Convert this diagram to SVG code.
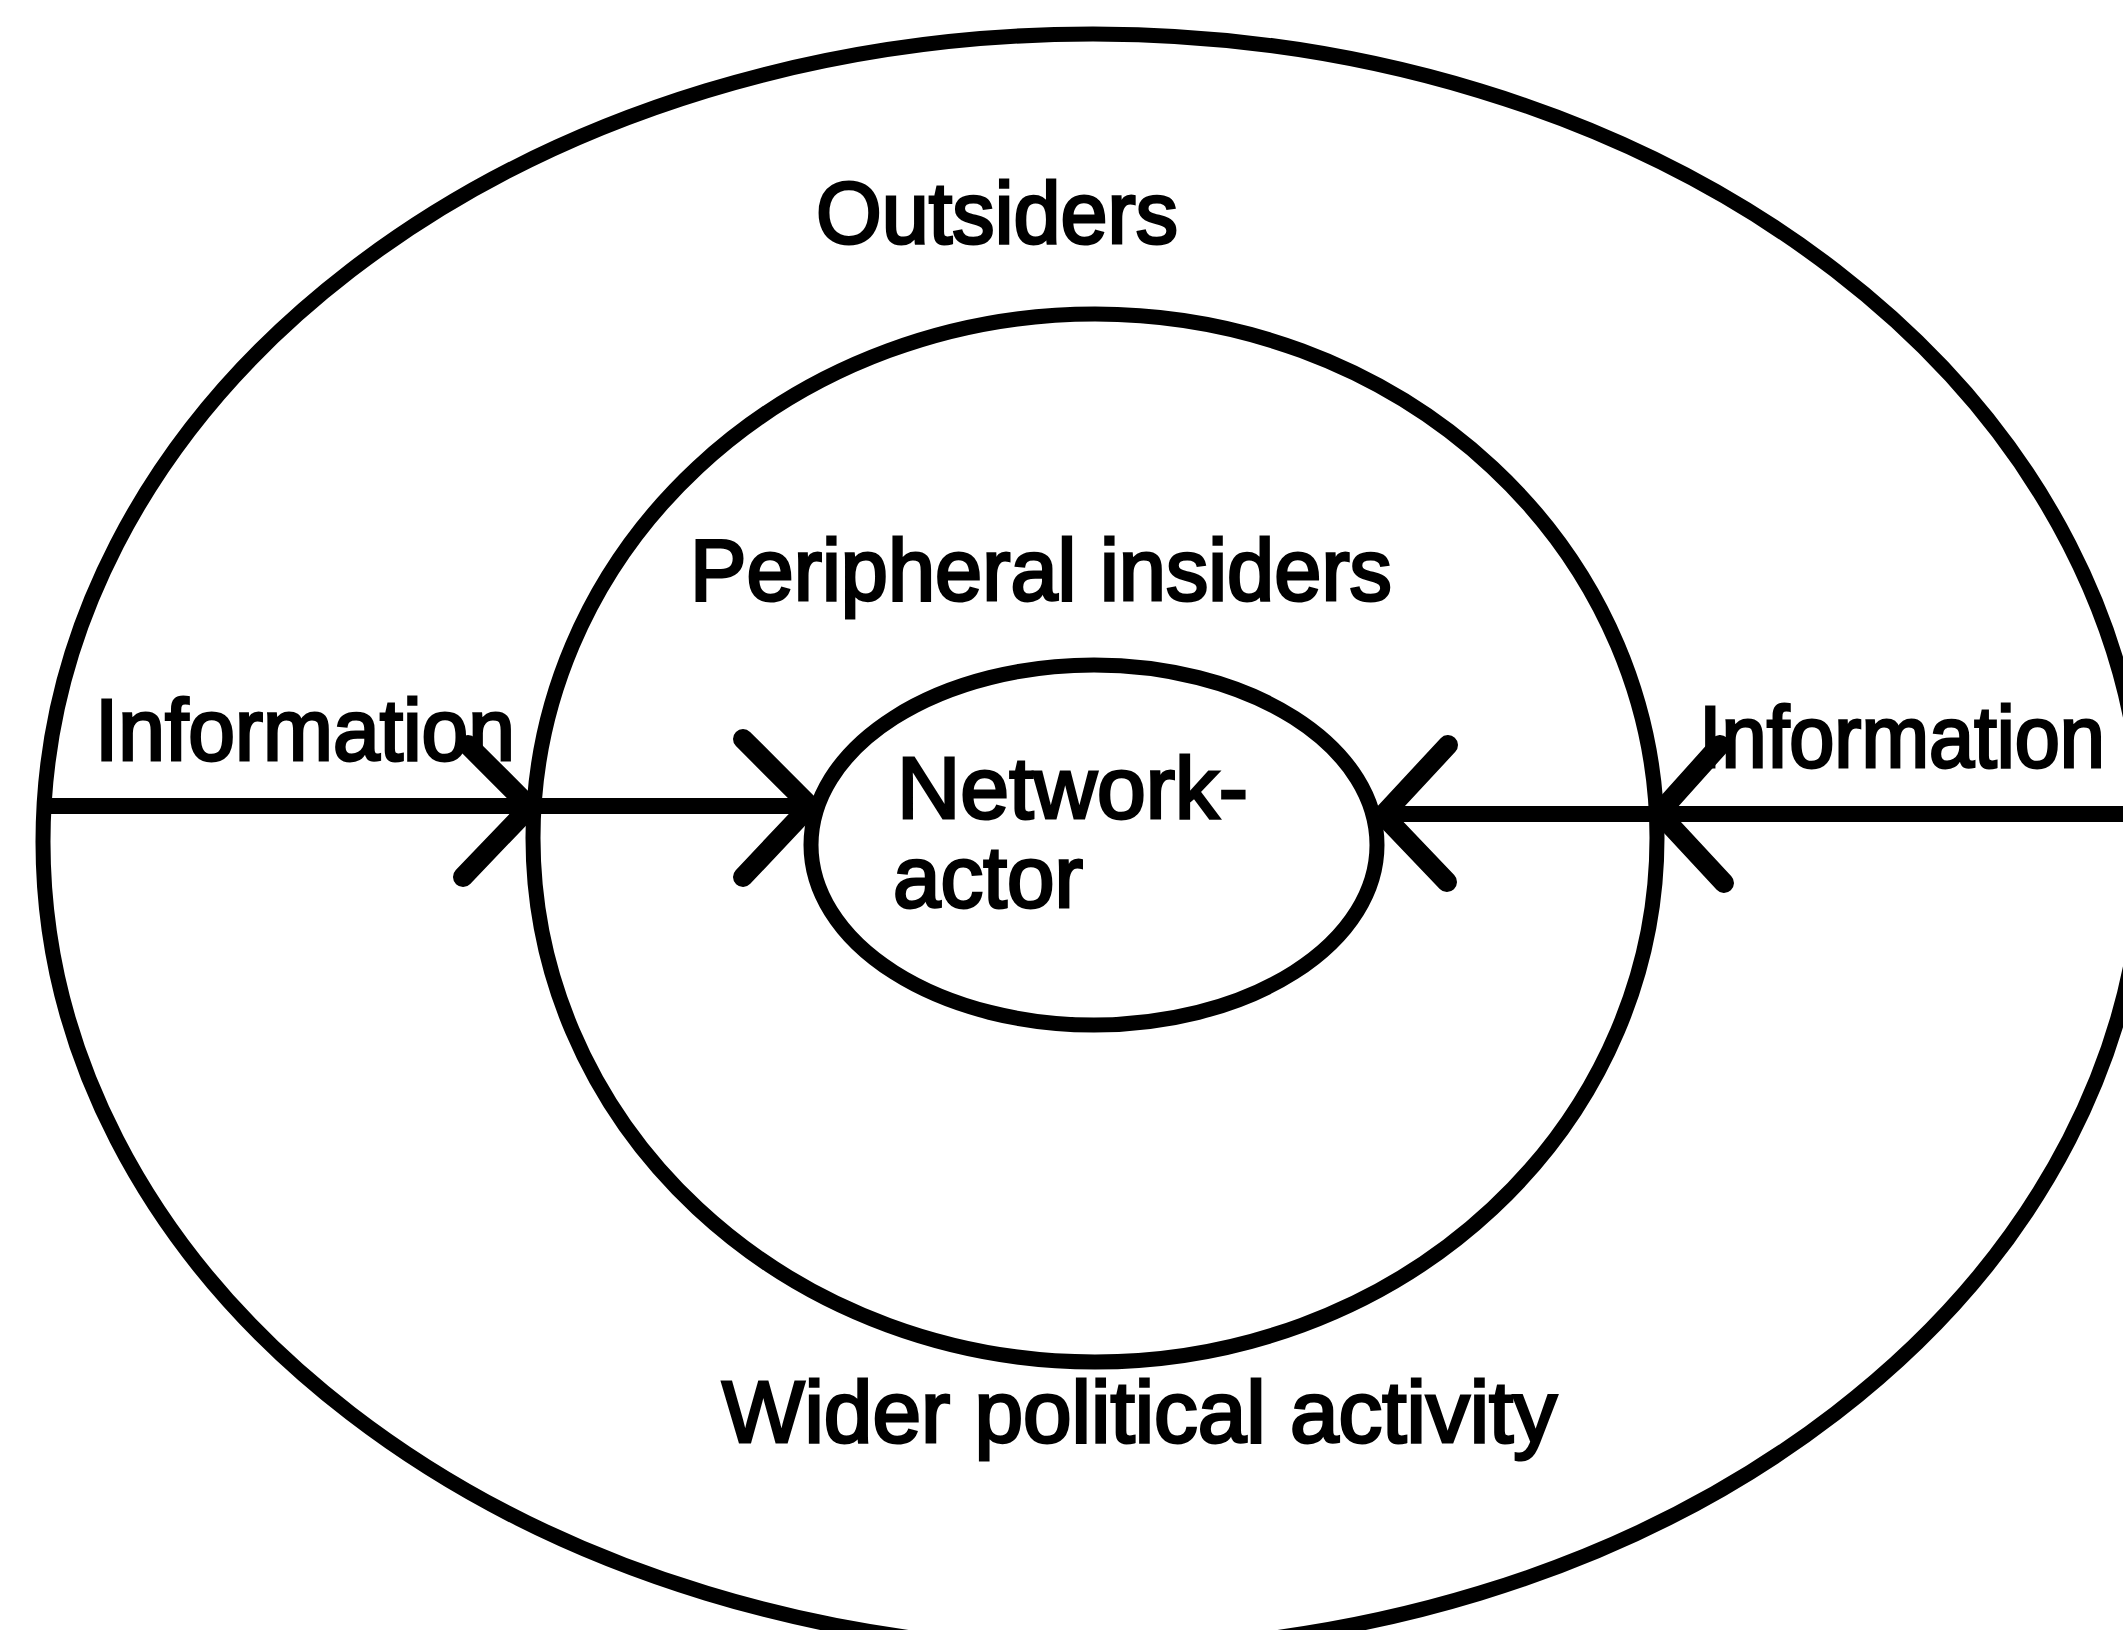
<svg xmlns="http://www.w3.org/2000/svg" width="2123" height="1630" viewBox="0 0 2123 1630">
<style>
.ring{fill:none;stroke:#000;stroke-width:15}
.line{fill:none;stroke:#000;stroke-width:16}
.chev{fill:none;stroke:#000;stroke-width:20;stroke-linecap:round;stroke-linejoin:round}
text{font-family:"Liberation Sans",Arial,sans-serif;fill:#000;stroke:#000;stroke-width:3;font-size:88px}
</style>
<rect width="2123" height="1630" fill="#fff"/>
<g id="outsiders">
<ellipse class="ring" cx="1093" cy="842" rx="1050" ry="808"/>
<text x="816" y="243" textLength="362" lengthAdjust="spacingAndGlyphs">Outsiders</text>
</g>
<g id="peripheral-insiders">
<ellipse class="ring" cx="1095" cy="838" rx="562" ry="524"/>
<text x="690" y="600" font-size="90" textLength="702" lengthAdjust="spacingAndGlyphs">Peripheral insiders</text>
</g>
<g id="network-actor">
<ellipse class="ring" cx="1094" cy="845" rx="283" ry="180"/>
<text x="897" y="818" font-size="97" textLength="351" lengthAdjust="spacingAndGlyphs">Network-</text>
<text x="893" y="907" font-size="97" textLength="190" lengthAdjust="spacingAndGlyphs">actor</text>
</g>
<g id="wider">
<text x="722" y="1442" font-size="90" textLength="835" lengthAdjust="spacingAndGlyphs">Wider political activity</text>
</g>
<g id="connectors">
<line class="line" x1="43" y1="806" x2="810" y2="806"/>
<polyline class="chev" points="468,745 530,807 463,877"/>
<polyline class="chev" points="743,739 810,806 743,877"/>
<line class="line" x1="1383" y1="814" x2="2123" y2="814"/>
<polyline class="chev" points="1448,745 1383,815 1447,882"/>
<polyline class="chev" points="1720,745 1659,813 1724,883"/>
<text x="95" y="760" textLength="420" lengthAdjust="spacingAndGlyphs">Information</text>
<text x="1699" y="767" font-size="82" textLength="406" lengthAdjust="spacingAndGlyphs">Information</text>
</g>
</svg>
